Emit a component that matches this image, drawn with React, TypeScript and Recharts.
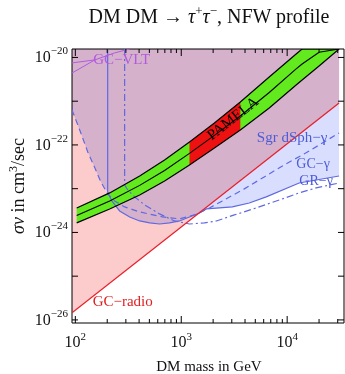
import React from 'react';
import { ComposedChart, XAxis, YAxis, Area, Line, Scatter, ReferenceArea } from 'recharts';

const WIDTH = 345;
const HEIGHT = 374;
const PLOT_TOP = 49;
const PLOT_RIGHT = 344;
const SERIF = '"Liberation Serif", "Times New Roman", serif';

// axes (DM mass in GeV, sigma v in cm^3/s)
const massDomain = [93, 34400];
const sigmaDomain = [8.5e-27, 1.56e-20];
const massTicks = [
  100, 200, 300, 400, 500, 600, 700, 800, 900,
  1000, 2000, 3000, 4000, 5000, 6000, 7000, 8000, 9000,
  10000, 20000, 30000,
];
const sigmaTicks = [1e-26, 1e-25, 1e-24, 1e-23, 1e-22, 1e-21, 1e-20];

// GC-radio bound (red line)
const radioMass = [93, 30900];
const radioSigma = [1.45e-26, 9.1e-22];

// gamma bounds (blue)
const solidMass = [202, 202, 221, 262, 326, 405, 503, 624, 775, 963, 1196, 1485, 1729, 3037, 4387, 6344, 12970, 30900];
const solidSigma = [1.56e-20, 8.4e-24, 5.25e-24, 3.1e-24, 2.26e-24, 1.83e-24, 1.65e-24, 1.56e-24, 1.65e-24, 1.83e-24, 2.26e-24, 2.79e-24, 3.44e-24, 3.83e-24, 4.7e-24, 6.5e-24, 1.35e-23, 1.95e-23];

const dashMass = [93, 110, 131, 153, 174, 202, 235, 292, 405, 666, 963, 1333, 1845, 2445, 3939, 6074, 9371, 15100, 30900];
const dashSigma = [6.3e-22, 2.2e-22, 6.9e-23, 2.98e-23, 1.43e-23, 7.6e-24, 5.25e-24, 3.83e-24, 2.94e-24, 2.26e-24, 2.04e-24, 2.51e-24, 3.63e-24, 5.25e-24, 9.9e-24, 1.86e-23, 3.5e-23, 6.6e-23, 1.88e-22];

const dotMass = [292, 292, 312, 363, 451, 624, 864, 1196, 1655, 2147, 3171, 5107, 8409, 12970, 18750, 30900];
const dotSigma = [1.56e-20, 1.22e-23, 9.35e-24, 6.5e-24, 4.26e-24, 2.65e-24, 1.83e-24, 1.56e-24, 1.65e-24, 1.83e-24, 2.51e-24, 3.63e-24, 5.5e-24, 8.0e-24, 1.04e-23, 1.35e-23];

// PAMELA-favoured band
const bandMass = [103, 211, 405, 696, 1196, 2056, 3612, 6770, 12150, 13840, 20010, 30900];
const bandLow = [1.65e-24, 3.44e-24, 7.2e-24, 1.5e-23, 3.5e-23, 8.5e-23, 2.2e-22, 7.0e-22, 2.35e-21, 3.06e-21, 6.4e-21, 1.56e-20];
const bandHigh = [3.63e-24, 8.0e-24, 1.95e-23, 4.5e-23, 1.17e-22, 3.18e-22, 9.6e-22, 3.58e-21, 1.2e-20, 1.56e-20, 1.56e-20, 1.56e-20];
const bandMid = [2.45e-24, 5.25e-24, 1.19e-23, 2.61e-23, 6.4e-23, 1.65e-22, 4.6e-22, 1.58e-21, 5.5e-21, 7.1e-21, 1.31e-20, 1.56e-20];
const pamelaMass = [1196, 3612];

// GC-VLT (violet)
const vltMassA = [93, 153, 235, 326];
const vltSigmaA = [4.4e-21, 8.8e-21, 1.27e-20, 1.56e-20];
const vltMassB = [93, 153];
const vltSigmaB = [7.5e-21, 8.8e-21];

// labels
const labelText = ['GC\u2212VLT', 'PAMELA', 'Sgr dSph\u2212\u03b3', 'GC\u2212\u03b3', 'GR\u2212\u03b3', 'GC\u2212radio'];
const labelMass = [274, 3037, 11140, 17570, 18750, 280];
const labelSigma = [9.25e-21, 4.14e-22, 1.52e-22, 3.68e-23, 1.5e-23, 2.7e-26];
const labelColor = ['#b05ae0', '#000000', '#4c5cd6', '#4c5cd6', '#4c5cd6', '#e02020'];
const labelAngle = [0, -38, 0, 0, 0, 0];
const labelSize = [15, 15, 15, 14, 14, 15];

const zip = (ms: number[], ss: number[]) => ms.map((m, i) => ({ m, s: ss[i] }));
const topSigma = sigmaDomain[1];

const radio = zip(radioMass, radioSigma);
const radioFill = radio.map((p) => ({ m: p.m, lo: p.s, hi: topSigma }));
const solid = zip(solidMass, solidSigma);
const dashed = zip(dashMass, dashSigma);
const dotted = zip(dotMass, dotSigma);
const gammaEdge = [...dashed.filter((p) => p.m < solidMass[0]), ...solid.slice(1)];
const gammaFill = gammaEdge.map((p) => ({ m: p.m, lo: p.s, hi: topSigma }));
const band = bandMass.map((m, i) => ({ m, lo: bandLow[i], hi: bandHigh[i], mid: bandMid[i] }));
const pamela = band.filter((d) => d.m >= pamelaMass[0] && d.m <= pamelaMass[1]);
const vltA = zip(vltMassA, vltSigmaA);
const vltB = zip(vltMassB, vltSigmaB);
const labels = labelText.map((text, i) => ({
  m: labelMass[i], s: labelSigma[i], text, color: labelColor[i], angle: labelAngle[i], size: labelSize[i],
}));

const range = (d: any) => [d.lo, d.hi];

function XTick(props: any) {
  const { x, y, payload } = props;
  const lg = Math.log10(payload.value);
  const e = Math.round(lg);
  const major = Math.abs(lg - e) < 1e-6;
  const len = major ? 7 : 4;
  return (
    <g>
      <line x1={x} x2={x} y1={y} y2={y - len} stroke="#000" strokeWidth={1} />
      <line x1={x} x2={x} y1={PLOT_TOP} y2={PLOT_TOP + len} stroke="#000" strokeWidth={1} />
      {major && (
        <text x={x} y={y + 24} textAnchor="middle" fontFamily={SERIF} fontSize={16} fill="#111">
          10<tspan dy={-7} fontSize={11}>{e}</tspan>
        </text>
      )}
    </g>
  );
}

function YTick(props: any) {
  const { x, y, payload } = props;
  const e = Math.round(Math.log10(payload.value));
  return (
    <g>
      <line x1={x} x2={x + 6} y1={y} y2={y} stroke="#000" strokeWidth={1} />
      <line x1={PLOT_RIGHT - 6} x2={PLOT_RIGHT} y1={y} y2={y} stroke="#000" strokeWidth={1} />
      {e % 2 === 0 && (
        <text x={x - 4} y={y + 5} textAnchor="end" fontFamily={SERIF} fontSize={16} fill="#111">
          10<tspan dy={-8} fontSize={11}>{'\u2212' + -e}</tspan>
        </text>
      )}
    </g>
  );
}

function LabelShape(p: any) {
  const d = p.payload;
  return (
    <text
      x={p.cx}
      y={p.cy}
      textAnchor="middle"
      dominantBaseline="central"
      fontFamily={SERIF}
      fontSize={d.size}
      fill={d.color}
      transform={d.angle ? `rotate(${d.angle} ${p.cx} ${p.cy})` : undefined}
    >
      {d.text}
    </text>
  );
}

const lineBase = { type: 'linear' as const, dot: false, activeDot: false, isAnimationActive: false };

export default function App() {
  return (
    <div style={{ position: 'relative', width: WIDTH, height: HEIGHT, background: '#fff' }}>
      <style>{'body{margin:0} .gamma-blend, .gamma-blend g, .gamma-blend path{mix-blend-mode:multiply}'}</style>
      <ComposedChart width={WIDTH} height={HEIGHT} margin={{ top: PLOT_TOP, right: WIDTH - PLOT_RIGHT, bottom: 0, left: 0 }}>
        <XAxis
          dataKey="m" type="number" scale="log" domain={massDomain} allowDataOverflow
          ticks={massTicks} interval={0} tickSize={0} tickMargin={0} axisLine={false}
          tick={(p: any) => <XTick {...p} />} height={51}
        />
        <YAxis
          type="number" scale="log" domain={sigmaDomain} allowDataOverflow
          ticks={sigmaTicks} interval={0} tickSize={0} tickMargin={0} axisLine={false}
          tick={(p: any) => <YTick {...p} />} width={72}
        />
        <Area {...lineBase} data={radioFill} dataKey={range} stroke="none" fill="#fccccc" fillOpacity={1} />
        <Area {...lineBase} className="gamma-blend" data={gammaFill} dataKey={range} stroke="none" fill="#d9deff" fillOpacity={1} />
        <Area {...lineBase} data={band} dataKey={range} stroke="none" fill="#62ea1e" fillOpacity={1} />
        <Area {...lineBase} data={pamela} dataKey={range} stroke="none" fill="#ee1111" fillOpacity={1} />

        <Line {...lineBase} data={dashed} dataKey="s" stroke="#5f69e1" strokeWidth={1.2} strokeDasharray="6 4" />
        <Line {...lineBase} data={dotted} dataKey="s" stroke="#5f69e1" strokeWidth={1.2} strokeDasharray="7 3 2 3" />
        <Line {...lineBase} data={solid} dataKey="s" stroke="#5f69e1" strokeWidth={1.2} />
        <Line {...lineBase} data={radio} dataKey="s" stroke="#e8202a" strokeWidth={1.3} />
        <Line {...lineBase} data={vltA} dataKey="s" stroke="#b05ae0" strokeWidth={1} />
        <Line {...lineBase} data={vltB} dataKey="s" stroke="#b05ae0" strokeWidth={1} />
        <Line {...lineBase} data={band} dataKey="hi" stroke="#000" strokeWidth={1.2} />
        <Line {...lineBase} data={band} dataKey="lo" stroke="#000" strokeWidth={1.2} />
        <Line {...lineBase} data={band} dataKey="mid" stroke="#000" strokeWidth={1.1} />

        <Scatter data={labels} dataKey="s" shape={LabelShape} isAnimationActive={false} />
        <ReferenceArea
          x1={massDomain[0]} x2={massDomain[1]} y1={sigmaDomain[0]} y2={sigmaDomain[1]}
          fill="none" fillOpacity={0} stroke="#000" strokeWidth={1} strokeOpacity={1}
        />
      </ComposedChart>
      <svg width={WIDTH} height={HEIGHT} style={{ position: 'absolute', left: 0, top: 0, pointerEvents: 'none' }}>
        <text x={209} y={23} textAnchor="middle" fontFamily={SERIF} fontSize={20} fill="#111">
          DM DM {'\u2192'} <tspan fontStyle="italic">{'\u03c4'}</tspan>
          <tspan dy={-8} fontSize={13}>+</tspan>
          <tspan dy={8} fontStyle="italic">{'\u03c4'}</tspan>
          <tspan dy={-8} fontSize={13}>{'\u2212'}</tspan>
          <tspan dy={8}>, NFW profile</tspan>
        </text>
        <text x={209} y={371} textAnchor="middle" fontFamily={SERIF} fontSize={15} fill="#111">
          DM mass in GeV
        </text>
        <text transform="translate(24 186) rotate(-90)" textAnchor="middle" fontFamily={SERIF} fontSize={18} fill="#111">
          <tspan fontStyle="italic">{'\u03c3v'}</tspan> in cm<tspan dy={-7} fontSize={12}>3</tspan>
          <tspan dy={7}>/sec</tspan>
        </text>
      </svg>
    </div>
  );
}
